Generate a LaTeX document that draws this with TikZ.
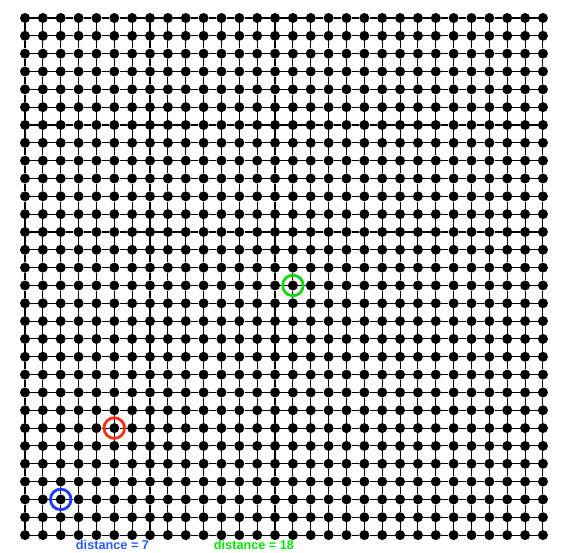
\documentclass[tikz,border=0pt]{standalone}
\usepackage{fontspec}
\setmainfont{Liberation Sans}

\definecolor{startblue}{RGB}{30,60,255}
\definecolor{midred}{RGB}{255,45,20}
\definecolor{fargreen}{RGB}{20,215,20}
\definecolor{textblue}{RGB}{40,90,255}
\definecolor{textgreen}{RGB}{0,230,0}

\tikzset{
  dot/.style={circle, fill=black, inner sep=0pt, minimum size=10pt},
  link/.style={line width=1.1pt},
  ring/.style={line width=2.8pt},
  dist/.style={anchor=base, font=\fontsize{12.7}{14}\selectfont\bfseries}
}

\begin{document}
\begin{tikzpicture} [x=1pt,y=-1pt]

\useasboundingbox (0,0) rectangle (565,552);

% 30 x 30 lattice
\foreach \i in {0,...,29}
  \foreach \j in {0,...,29}
    \node [dot] (n-\i-\j) at ({25+17.86*\i},{18+17.83*\j}) {};

\foreach \i [evaluate=\i as \k using int(\i+1)] in {0,...,28}
  \foreach \j in {0,...,29} {
    \draw [link] (n-\i-\j) -- (n-\k-\j);
    \draw [link] (n-\j-\i) -- (n-\j-\k);
  }

\draw [ring, startblue] (n-2-27) circle (10.3);
\draw [ring, midred] (n-5-23) circle (10.3);
\draw [ring, fargreen] (n-15-15) circle (10.3);

\node [dist, text=textblue] (dred) at (112.5,549) {distance = 7};
\node [dist, text=textgreen] (dgreen) at (254,549) {distance = 18};

\end{tikzpicture}
\end{document}
